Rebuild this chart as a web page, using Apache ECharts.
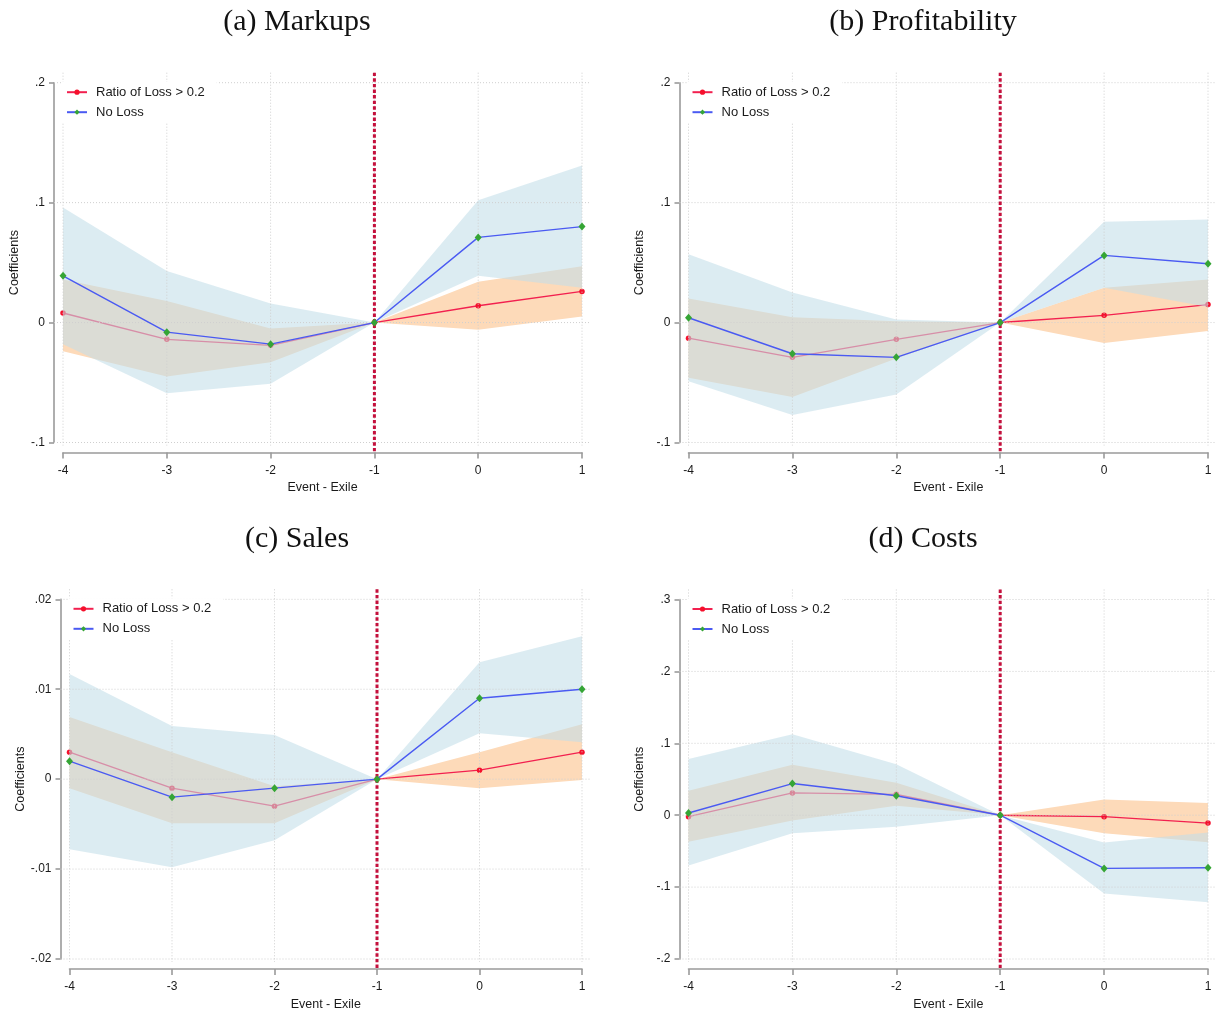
<!DOCTYPE html>
<html>
<head>
<meta charset="utf-8">
<title>Event study coefficients</title>
<script src="https://cdn.jsdelivr.net/npm/echarts@6/dist/echarts.min.js"></script>
<style>
  html, body { margin: 0; padding: 0; background: #ffffff; }
  #chart { width: 1216px; height: 1014px; }
</style>
</head>
<body>
<div id="chart"></div>
<script>
// Event time relative to exile
const periods = [-4, -3, -2, -1, 0, 1];
const periodLabels = ['-4', '-3', '-2', '-1', '0', '1'];

const seriesNames = ['Ratio of Loss > 0.2', 'No Loss'];
const panelTitles = ['(a) Markups', '(b) Profitability', '(c) Sales', '(d) Costs'];

// (a) Markups
const markupsLossCoef   = [0.008, -0.014, -0.019, 0, 0.014, 0.026];
const markupsLossLo     = [-0.024, -0.045, -0.033, 0, -0.006, 0.005];
const markupsLossHi     = [0.036, 0.018, -0.005, 0, 0.034, 0.047];
const markupsNoLossCoef = [0.039, -0.008, -0.018, 0, 0.071, 0.080];
const markupsNoLossLo   = [-0.018, -0.059, -0.051, 0, 0.039, 0.029];
const markupsNoLossHi   = [0.096, 0.043, 0.016, 0, 0.102, 0.131];
const markupsTicks      = [-0.1, 0, 0.1, 0.2];
const markupsTickLabels = ['-.1', '0', '.1', '.2'];

// (b) Profitability
const profitLossCoef   = [-0.013, -0.029, -0.014, 0, 0.006, 0.015];
const profitLossLo     = [-0.046, -0.062, -0.030, 0, -0.017, -0.007];
const profitLossHi     = [0.020, 0.0045, 0.001, 0, 0.029, 0.036];
const profitNoLossCoef = [0.004, -0.026, -0.029, 0, 0.056, 0.049];
const profitNoLossLo   = [-0.049, -0.077, -0.060, 0, 0.029, 0.013];
const profitNoLossHi   = [0.057, 0.025, 0.0025, 0, 0.084, 0.086];
const profitTicks      = [-0.1, 0, 0.1, 0.2];
const profitTickLabels = ['-.1', '0', '.1', '.2'];

// (c) Sales
const salesLossCoef   = [0.003, -0.001, -0.003, 0, 0.001, 0.003];
const salesLossLo     = [-0.001, -0.0049, -0.0049, 0, -0.001, -0.0001];
const salesLossHi     = [0.0069, 0.003, -0.0008, 0, 0.003, 0.0061];
const salesNoLossCoef = [0.002, -0.002, -0.001, 0, 0.009, 0.010];
const salesNoLossLo   = [-0.0078, -0.0098, -0.0068, 0, 0.0051, 0.0041];
const salesNoLossHi   = [0.0117, 0.0059, 0.0049, 0, 0.013, 0.0159];
const salesTicks      = [-0.02, -0.01, 0, 0.01, 0.02];
const salesTickLabels = ['-.02', '-.01', '0', '.01', '.02'];

// (d) Costs
const costsLossCoef   = [-0.002, 0.031, 0.029, 0, -0.002, -0.011];
const costsLossLo     = [-0.037, -0.0074, 0.013, 0, -0.025, -0.0375];
const costsLossHi     = [0.034, 0.070, 0.045, 0, 0.022, 0.017];
const costsNoLossCoef = [0.003, 0.044, 0.027, 0, -0.074, -0.073];
const costsNoLossLo   = [-0.070, -0.025, -0.016, 0, -0.109, -0.121];
const costsNoLossHi   = [0.078, 0.1125, 0.071, 0, -0.038, -0.024];
const costsTicks      = [-0.2, -0.1, 0, 0.1, 0.2, 0.3];
const costsTickLabels = ['-.2', '-.1', '0', '.1', '.2', '.3'];

// Exile year reference line
const exilePeriod = -1;

// ---------- styling ----------
const SANS = '"Liberation Sans", Arial, sans-serif';
const SERIF = '"Liberation Serif", "Times New Roman", serif';
const TEXT = '#1a1a1a';
const AXIS = '#9a9a9a';
const GRIDLINE = '#cfcfcf';
const LOSS_LINE = '#f2204f';
const LOSS_MARK = '#f5102c';
const NOLOSS_LINE = '#4a5af2';
const NOLOSS_MARK = '#35a535';
const LOSS_BAND = '#fddab9';
const NOLOSS_BAND = 'rgba(195,222,233,0.58)';
const REF_LINE = '#c4103c';

const panels = [
  { title: panelTitles[0], titleX: 297, titleY: 22,
    grid: { left: 63, top: 82.7, width: 519, height: 359.8 },
    ticks: markupsTicks, tickLabels: markupsTickLabels,
    loss: [markupsLossCoef, markupsLossLo, markupsLossHi],
    noLoss: [markupsNoLossCoef, markupsNoLossLo, markupsNoLossHi] },
  { title: panelTitles[1], titleX: 923, titleY: 22,
    grid: { left: 688.5, top: 82.7, width: 519.5, height: 359.8 },
    ticks: profitTicks, tickLabels: profitTickLabels,
    loss: [profitLossCoef, profitLossLo, profitLossHi],
    noLoss: [profitNoLossCoef, profitNoLossLo, profitNoLossHi] },
  { title: panelTitles[2], titleX: 297, titleY: 539,
    grid: { left: 69.5, top: 599.3, width: 512.5, height: 359.7 },
    ticks: salesTicks, tickLabels: salesTickLabels,
    loss: [salesLossCoef, salesLossLo, salesLossHi],
    noLoss: [salesNoLossCoef, salesNoLossLo, salesNoLossHi] },
  { title: panelTitles[3], titleX: 923, titleY: 539,
    grid: { left: 688.5, top: 599.5, width: 519.5, height: 359.5 },
    ticks: costsTicks, tickLabels: costsTickLabels,
    loss: [costsLossCoef, costsLossLo, costsLossHi],
    noLoss: [costsNoLossCoef, costsNoLossLo, costsNoLossHi] }
];

const pairs = (ys) => periods.map((x, i) => [x, ys[i]]);

// confidence band: one filled polygon through the upper bounds and back along the lower bounds
function band(idx, lo, hi, color, z) {
  return {
    type: 'custom', xAxisIndex: idx, yAxisIndex: idx, silent: true, clip: false, z: z,
    encode: { x: 0, y: [1, 2] },
    data: periods.map((x, i) => [x, lo[i], hi[i]]),
    renderItem: (params, api) => {
      if (params.dataIndexInside !== 0) return null;
      const n = params.dataInsideLength;
      const upper = [], lower = [];
      for (let i = 0; i < n; i++) {
        const x = api.value(0, i);
        lower.push(api.coord([x, api.value(1, i)]));
        upper.push(api.coord([x, api.value(2, i)]));
      }
      return { type: 'polygon', shape: { points: upper.concat(lower.reverse()) },
        style: { fill: color, stroke: null } };
    }
  };
}

const grids = [], xAxes = [], yAxes = [], series = [], legends = [], graphics = [];

panels.forEach((p, idx) => {
  const yMin = p.ticks[0], yMax = p.ticks[p.ticks.length - 1];
  const step = p.ticks[1] - p.ticks[0];
  grids.push(Object.assign({ containLabel: false }, p.grid));

  xAxes.push({
    gridIndex: idx, type: 'value', min: periods[0], max: periods[periods.length - 1], interval: 1,
    offset: 10,
    axisLine: { show: true, onZero: false, lineStyle: { color: AXIS, width: 1.6 } },
    axisTick: { show: true, length: 6, lineStyle: { color: AXIS, width: 1.6 } },
    axisLabel: { margin: 12, fontSize: 12, color: TEXT, fontFamily: SANS,
      formatter: (v) => periodLabels[periods.indexOf(Math.round(v))] },
    splitLine: { show: false },
    name: 'Event - Exile', nameLocation: 'middle', nameGap: 29,
    nameTextStyle: { fontSize: 12.5, color: TEXT, fontFamily: SANS }
  });

  yAxes.push({
    gridIndex: idx, type: 'value', min: yMin, max: yMax, interval: step,
    offset: 9,
    axisLine: { show: true, onZero: false, lineStyle: { color: AXIS, width: 1.6 } },
    axisTick: { show: true, length: 5, lineStyle: { color: AXIS, width: 1.6 } },
    axisLabel: { margin: 9, fontSize: 12, color: TEXT, fontFamily: SANS,
      formatter: (v) => {
        let best = 0;
        p.ticks.forEach((t, k) => { if (Math.abs(t - v) < Math.abs(p.ticks[best] - v)) best = k; });
        return p.tickLabels[best];
      } },
    splitLine: { show: false },
    name: 'Coefficients', nameLocation: 'middle', nameGap: 33, nameRotate: 90,
    nameTextStyle: { fontSize: 12.5, color: TEXT, fontFamily: SANS }
  });

  // layering: peach band, red line, light-blue band (tints what lies beneath), grid, reference line, blue line
  series.push(band(idx, p.loss[1], p.loss[2], LOSS_BAND, 1));
  series.push({
    name: seriesNames[0], type: 'line', xAxisIndex: idx, yAxisIndex: idx, z: 2, clip: false,
    data: pairs(p.loss[0]), symbol: 'circle', symbolSize: 5.5,
    itemStyle: { color: LOSS_MARK }, lineStyle: { color: LOSS_LINE, width: 1.4 },
    emphasis: { disabled: true }
  });
  series.push(band(idx, p.noLoss[1], p.noLoss[2], NOLOSS_BAND, 3));

  // dotted grid lines, slightly longer than the tick range
  series.push({
    type: 'custom', xAxisIndex: idx, yAxisIndex: idx, silent: true, clip: false, z: 4,
    data: periods.map((x) => [x, yMin]),
    renderItem: (params, api) => {
      const cs = params.coordSys;
      const x = api.coord([api.value(0), api.value(1)])[0];
      return { type: 'line', shape: { x1: x, y1: cs.y - 10, x2: x, y2: cs.y + cs.height + 3 },
        style: { stroke: GRIDLINE, lineWidth: 1, lineDash: [1, 2] } };
    }
  });
  series.push({
    type: 'custom', xAxisIndex: idx, yAxisIndex: idx, silent: true, clip: false, z: 4,
    data: p.ticks.map((t) => [periods[0], t]),
    renderItem: (params, api) => {
      const cs = params.coordSys;
      const y = api.coord([api.value(0), api.value(1)])[1];
      return { type: 'line', shape: { x1: cs.x - 9, y1: y, x2: cs.x + cs.width + 9, y2: y },
        style: { stroke: GRIDLINE, lineWidth: 1, lineDash: [1, 2] } };
    }
  });

  // exile reference line
  series.push({
    type: 'custom', xAxisIndex: idx, yAxisIndex: idx, silent: true, clip: false, z: 5,
    data: [[exilePeriod, 0]],
    renderItem: (params, api) => {
      const cs = params.coordSys;
      const x = api.coord([api.value(0), api.value(1)])[0];
      return { type: 'line', shape: { x1: x, y1: cs.y - 10, x2: x, y2: cs.y + cs.height + 10 },
        style: { stroke: REF_LINE, lineWidth: 3, lineDash: [3.4, 2.2], lineCap: 'butt' } };
    }
  });

  series.push({
    name: seriesNames[1], type: 'line', xAxisIndex: idx, yAxisIndex: idx, z: 6, clip: false,
    data: pairs(p.noLoss[0]), symbol: 'diamond', symbolSize: [7, 8],
    itemStyle: { color: NOLOSS_MARK }, lineStyle: { color: NOLOSS_LINE, width: 1.4 },
    emphasis: { disabled: true }
  });

  legends.push({
    data: seriesNames.slice(), orient: 'vertical',
    left: p.grid.left + 3 - 4, top: p.grid.top - 1, z: 10,
    padding: [4, 12, 4, 4], backgroundColor: '#ffffff',
    itemWidth: 20, itemHeight: 6.5, itemGap: 7, selectedMode: false,
    textStyle: { fontSize: 13, color: TEXT, fontFamily: SANS, padding: [0, 0, 0, 4] }
  });

  graphics.push({
    type: 'text', x: p.titleX, y: p.titleY, silent: true,
    style: { text: p.title, font: '30px ' + SERIF, fill: '#111111',
      textAlign: 'center', textVerticalAlign: 'middle' }
  });
});

const chart = echarts.init(document.getElementById('chart'), null, { renderer: 'canvas' });
chart.setOption({
  animation: false,
  backgroundColor: '#ffffff',
  grid: grids,
  xAxis: xAxes,
  yAxis: yAxes,
  legend: legends,
  series: series,
  graphic: graphics
});
</script>
</body>
</html>
